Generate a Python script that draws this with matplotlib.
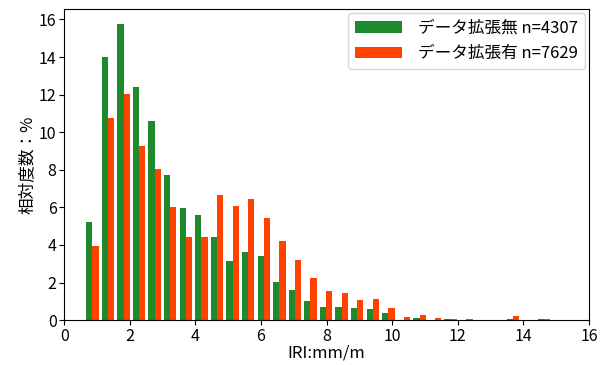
#!/usr/bin/env python3
#
# Relative frequency histogram of IRI, with / without data augmentation
#
import numpy as np
import matplotlib
matplotlib.use('Agg')
import matplotlib.pyplot as plt

plt.rcParams['font.family'] = ['Noto Sans CJK JP', 'DejaVu Sans']

# Histogram bins (30 bins over the data range)
bin_lo = 0.62
bin_hi = 14.87
nbins = 30

# Relative frequency (%) per bin
no_aug = [5.24, 14.0, 15.76, 12.42, 10.59, 7.72, 5.95, 5.6, 4.4, 3.16,
          3.65, 3.42, 2.03, 1.6, 1.03, 0.71, 0.71, 0.62, 0.57, 0.36,
          0.0, 0.09, 0.02, 0.04, 0.02, 0.0, 0.0, 0.07, 0.0, 0.05]
with_aug = [3.96, 10.73, 12.01, 9.29, 8.06, 6.0, 4.42, 4.4, 6.68, 6.06,
            6.42, 5.45, 4.19, 3.21, 2.26, 1.55, 1.43, 1.07, 1.12, 0.62,
            0.18, 0.27, 0.09, 0.05, 0.07, 0.0, 0.0, 0.2, 0.0, 0.05]

labels = ['データ拡張無 n=4307', 'データ拡張有 n=7629']
colors = ['#1e8a2c', '#ff4200']

edges = np.linspace(bin_lo, bin_hi, nbins + 1)
centers = 0.5 * (edges[:-1] + edges[1:])

fig = plt.figure(figsize=(6.06, 3.65), dpi=100)
fig.subplots_adjust(0.106, 0.123, 0.972, 0.975)
ax = fig.add_subplot(111)

ax.hist([centers, centers], bins=edges, weights=[no_aug, with_aug],
        color=colors, label=labels)

ax.set_xlim(0, 16)
ax.set_xlabel('IRI:mm/m', fontsize=12, labelpad=0)
ax.set_ylabel('相対度数：%', fontsize=12, labelpad=2)
ax.tick_params(labelsize=11.5, pad=2)
ax.legend(loc='upper right', fontsize=12, handlelength=2.8,
          borderaxespad=0.25, handletextpad=1.0)

fig.savefig('out.png')
